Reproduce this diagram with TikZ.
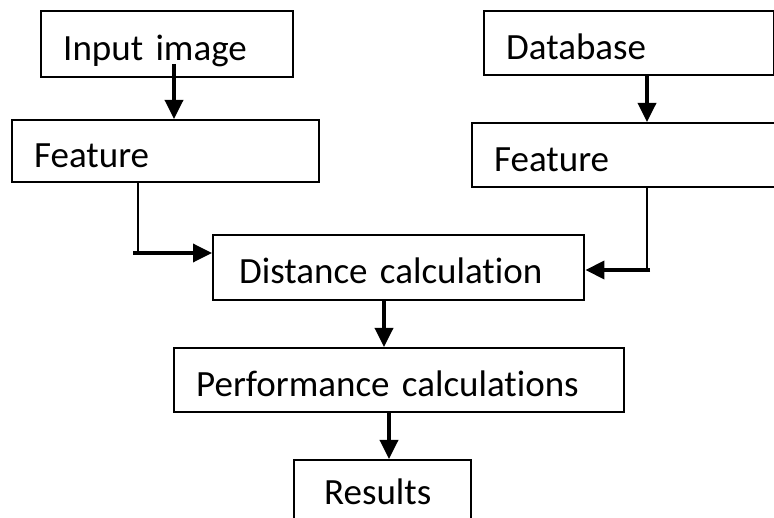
\documentclass[tikz,border=0pt]{standalone}
\usepackage{fontspec}
\setmainfont{Carlito}[Ligatures=NoCommon]
\usetikzlibrary{arrows.meta}
\begin{document}
\begin{tikzpicture}[x=1pt, y=-1pt,
	box/.style={draw, line width=2.4pt, anchor=north west, align=left, inner xsep=22pt, inner ysep=0pt, text height=32pt, text depth=0pt, font=\fontsize{37}{40}\selectfont},
	arr/.style={line width=3.5pt, -{Triangle[length=19pt,width=18pt]}},
	link/.style={line width=2.2pt}]
	\useasboundingbox (0,0) rectangle (774,518);
	\node[box, minimum width=252pt, minimum height=66pt, text width=208pt] (inp) at (40,10) {Input image};
	\node[box, minimum width=307pt, minimum height=62pt, text width=263pt] (featL) at (11,119) {Feature};
	\node[box, minimum width=290pt, minimum height=64pt, text width=246pt] (db) at (483,10) {Database};
	\node[box, minimum width=330pt, minimum height=64pt, text width=286pt] (featR) at (471,122) {Feature};
	\node[box, inner xsep=26pt, minimum width=371pt, minimum height=65pt, text width=319pt] (dist) at (212,234) {Distance calculation};
	\node[box, minimum width=450pt, minimum height=64pt, text width=406pt] (perf) at (173,347) {Performance calculations};
	\node[box, inner xsep=30pt, minimum width=177pt, minimum height=80pt, text width=117pt, text depth=24pt] (res) at (293,459) {Results};
	\coordinate (a1) at (174,64);
	\coordinate (a2) at (647,0);
	\coordinate (a3) at (384,0);
	\coordinate (a4) at (389,0);
	\coordinate (lx) at (138,253);
	\coordinate (ls) at (133,253);
	\coordinate (rx) at (647,270);
	\coordinate (rs) at (650,270);
	\draw[arr] (a1) -- (a1 |- featL.north);
	\draw[arr] (a2 |- db.south) -- (a2 |- featR.north);
	\draw[link] (lx |- featL.south) -- (lx);
	\draw[arr] (ls) -- (ls -| dist.west);
	\draw[link] (rx |- featR.south) -- (rx);
	\draw[arr] (rs) -- (rs -| dist.east);
	\draw[arr] (a3 |- dist.south) -- (a3 |- perf.north);
	\draw[arr] (a4 |- perf.south) -- (a4 |- res.north);
\end{tikzpicture}
\end{document}
